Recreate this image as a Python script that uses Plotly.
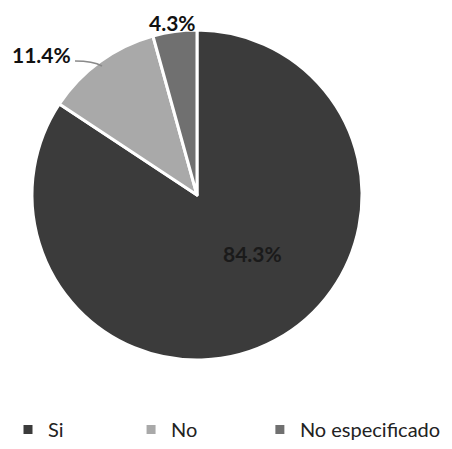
import plotly.graph_objects as go

labels = ["Si", "No", "No especificado"]
values = [84.3, 11.4, 4.3]
colors = ["#3b3b3b", "#a9a9a9", "#707070"]

# The browser page adds an 8px body margin, so the figure is sized to the
# remaining area and reference pixel positions are shifted by OFF.
OFF = 8
W, H = 452 - OFF, 449 - OFF
FONT = "Lato"


def px_x(x):
    return (x - OFF) / W


def px_y(y):
    return 1 - (y - OFF) / H


# trailing em/en/thin spaces widen the first two legend entries (spacing as in the reference)
EM, EN, THIN = "\u2003", "\u2002", "\u2009"
pads = [EM * 4 + THIN, EM * 3 + EN + THIN, ""]
legend_labels = [lab + p for lab, p in zip(labels, pads)]

fig = go.Figure(go.Pie(
    labels=legend_labels,
    values=values,
    sort=False,
    direction="clockwise",
    rotation=0,
    marker=dict(colors=colors, line=dict(color="white", width=3)),
    textinfo="none",
    domain=dict(x=[px_x(32), px_x(362)], y=[px_y(360), px_y(30)]),
    showlegend=True,
))

# percentage labels (x, y, yanchor)
label_pos = {"Si": (252, 254, "middle"), "No": (41, 54, "middle"), "No especificado": (172, 8, "top")}
label_col = {"Si": "#1a1a1a", "No": "#111111", "No especificado": "#111111"}
for lab, val in zip(labels, values):
    px, py, ya = label_pos[lab]
    fig.add_annotation(
        x=px_x(px), y=px_y(py), xref="paper", yref="paper",
        xanchor="center", yanchor=ya,
        text=f"<b>{val:.1f}%</b>", showarrow=False,
        font=dict(family=FONT, size=21, color=label_col[lab]),
    )

# leader line for the "No" label
fig.add_shape(type="path", xref="paper", yref="paper",
              path=f"M {px_x(75)},{px_y(61)} Q {px_x(93)},{px_y(61)} {px_x(102)},{px_y(66)}",
              line=dict(color="#8a8a8a", width=1.5))

fig.update_layout(
    width=W, height=H,
    margin=dict(l=0, r=0, t=0, b=0),
    paper_bgcolor="white",
    plot_bgcolor="white",
    font=dict(family=FONT, size=20, color="#222222"),
    legend=dict(
        orientation="h",
        x=0, xanchor="left",
        y=0, yanchor="bottom",
        font=dict(family=FONT, size=20, color="#222222"),
        itemwidth=30,
    ),
)

fig.write_html("out.html")
